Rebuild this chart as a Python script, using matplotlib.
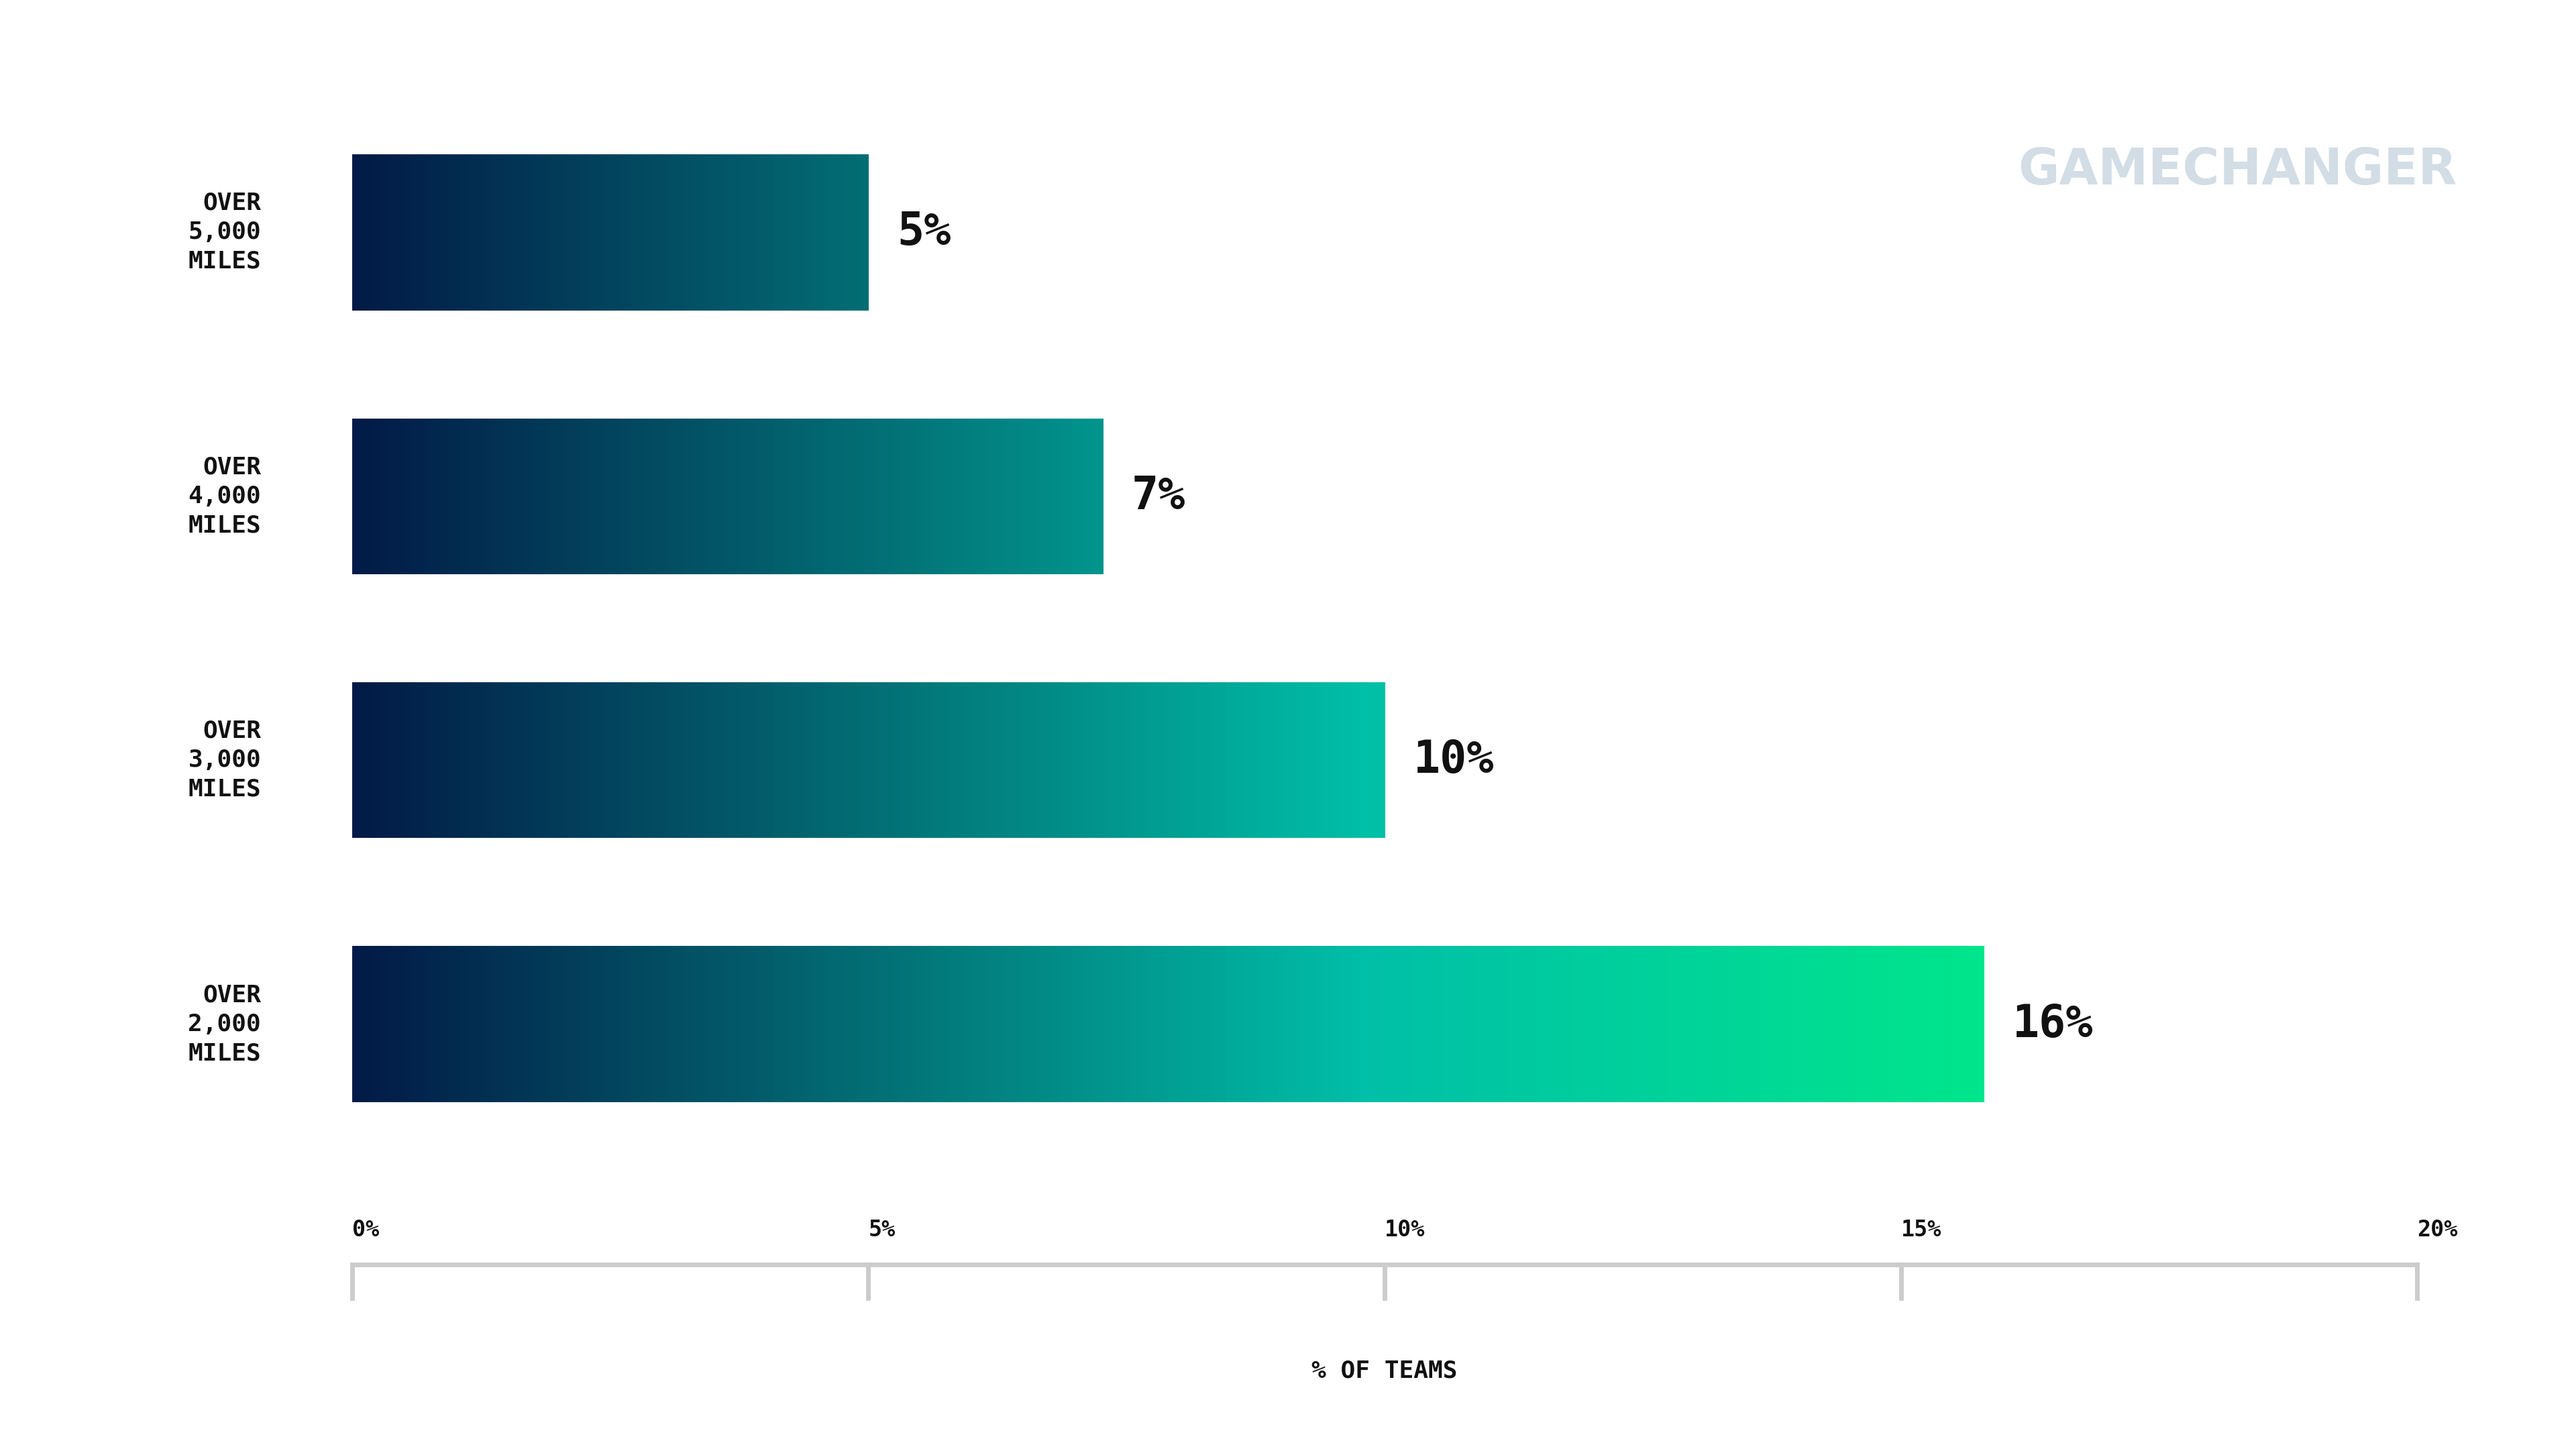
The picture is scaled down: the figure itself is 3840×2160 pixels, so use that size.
import matplotlib
matplotlib.use("Agg")
import matplotlib.pyplot as plt
import numpy as np
from matplotlib.colors import LinearSegmentedColormap

categories = ["OVER\n5,000\nMILES", "OVER\n4,000\nMILES", "OVER\n3,000\nMILES", "OVER\n2,000\nMILES"]
values = [5.0, 7.27, 10.0, 15.8]
value_labels = ["5%", "7%", "10%", "16%"]
ticks = [0, 5, 10, 15, 20]
tick_labels = ["0%", "5%", "10%", "15%", "20%"]

W, H = 1552, 873
fig = plt.figure(figsize=(38.41, 21.6), dpi=100)
ax = fig.add_axes([212/W, (H-700)/H, (1456-212)/W, (700-60)/H])
ax.set_xlim(0, 20)
ax.axis("off")

cmap = LinearSegmentedColormap.from_list("g", [(0, "#021a47"), (0.3, "#036a72"), (0.62, "#00bfa8"), (1, "#00e68c")])
grad = np.linspace(0, 1, 512)[None, :]
bh = 94/159
mono = "DejaVu Sans Mono"
for i, (c, v, lab) in enumerate(zip(categories, values, value_labels)):
    rect = ax.barh(i, v, height=bh, color="none", edgecolor="none")[0]
    im = ax.imshow(grad, cmap=cmap, extent=[0, 15.8, i + bh/2, i - bh/2], aspect="auto", zorder=2)
    im.set_clip_path(rect)
    ax.text(v + 0.28, i, lab, va="center", ha="left", fontsize=48, fontweight="bold", family=mono, color="#111")
    ax.text(-0.88, i, c, va="center", ha="right", fontsize=26, fontweight="bold", family=mono, color="#111", linespacing=1.35)

ax.set_ylim((700-140)/159, (60-140)/159)
ya = (762-140)/159
yt = (782-140)/159
ax.plot([0, 20], [ya, ya], color="#cccccc", lw=5, clip_on=False, solid_capstyle="butt")
for t, tl in zip(ticks, tick_labels):
    ax.plot([t, t], [ya, yt], color="#cccccc", lw=5, clip_on=False)
    ax.text(t, (741-140)/159, tl, ha="left", va="center", fontsize=24, fontweight="bold", family=mono, color="#111")
ax.text(10, (826-140)/159, "% OF TEAMS", ha="center", va="center", fontsize=26, fontweight="bold", family=mono, color="#111")

fig.text(1480/W, 1 - 103/H, "GAMECHANGER", ha="right", va="center", fontsize=54, fontweight="bold", family="DejaVu Sans", color="#d2dde6")
fig.savefig("out.png", dpi=100, facecolor="white")
